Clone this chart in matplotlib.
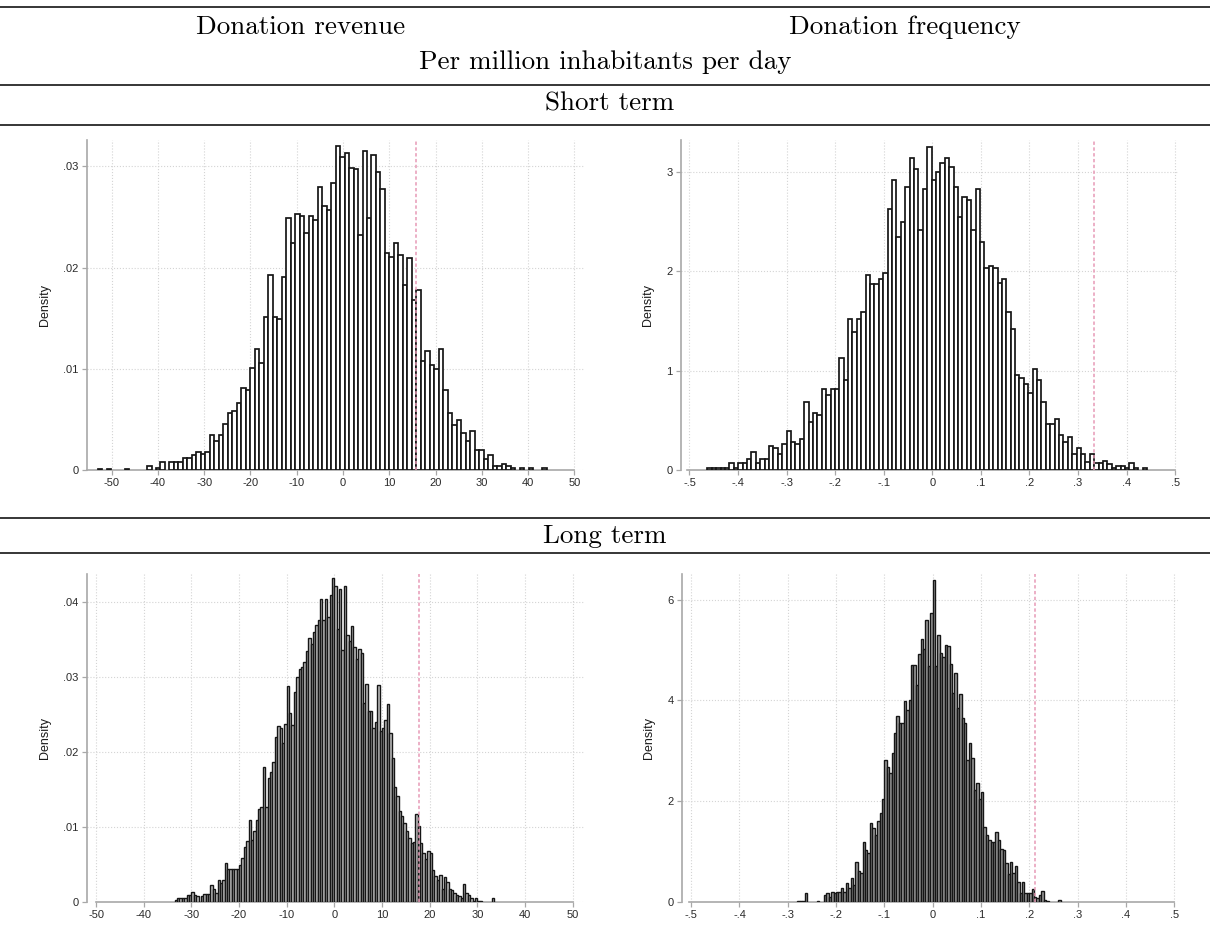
import numpy as np
import matplotlib.pyplot as plt
from matplotlib.lines import Line2D

W, H = 1210, 947

# ---- short term, donation revenue (density per bin) ----
rev_short_start = -53.0
rev_short_width = 0.97
rev_short = [
    0.0001, 0, 0.0001, 0, 0, 0, 0.0001, 0, 0, 0,
    0, 0.0004, 0, 0.0002, 0.0008, 0, 0.0008, 0.0008, 0.0008, 0.0012,
    0.0012, 0.0015, 0.0018, 0.0016, 0.0018, 0.0035, 0.0029, 0.0035, 0.0045, 0.0056,
    0.0058, 0.0066, 0.0081, 0.0079, 0.0101, 0.0120, 0.0106, 0.0151, 0.0193, 0.0151,
    0.0149, 0.0191, 0.0249, 0.0224, 0.0253, 0.0251, 0.0234, 0.0251, 0.0247, 0.0280,
    0.0261, 0.0257, 0.0284, 0.0320, 0.0309, 0.0313, 0.0298, 0.0297, 0.0232, 0.0315,
    0.0249, 0.0311, 0.0294, 0.0278, 0.0214, 0.0210, 0.0224, 0.0212, 0.0183, 0.0209,
    0.0168, 0.0178, 0.0108, 0.0118, 0.0104, 0.0100, 0.0120, 0.0079, 0.0056, 0.0044,
    0.0049, 0.0037, 0.0029, 0.0039, 0.0020, 0.0020, 0.0011, 0.0015, 0.0004, 0.0004,
    0.0006, 0.0004, 0.0002, 0, 0.0002, 0, 0.0002, 0, 0, 0.0002,
]
rev_short_obs = 15.76

# ---- short term, donation frequency ----
freq_short_start = -0.463
freq_short_width = 0.00905
freq_short = [
    0.02, 0.02, 0.02, 0.02, 0.02, 0.07, 0.02, 0.07, 0.07, 0.11,
    0.18, 0.07, 0.11, 0.11, 0.245, 0.218, 0.158, 0.265, 0.396, 0.285,
    0.261, 0.308, 0.680, 0.486, 0.570, 0.550, 0.818, 0.751, 0.818, 0.818,
    1.123, 0.905, 1.522, 1.391, 1.522, 1.589, 1.964, 1.874, 1.874, 1.917,
    1.985, 2.628, 2.913, 2.340, 2.494, 2.850, 3.134, 3.024, 2.410, 2.826,
    3.245, 2.913, 3.000, 3.091, 3.134, 3.051, 2.850, 2.541, 2.742, 2.719,
    2.414, 2.826, 2.296, 2.035, 2.052, 2.035, 1.877, 1.917, 1.589, 1.415,
    0.952, 0.929, 0.862, 0.771, 1.012, 0.905, 0.680, 0.459, 0.459, 0.510,
    0.355, 0.285, 0.329, 0.158, 0.218, 0.158, 0.084, 0.158, 0.07, 0.07,
    0.09, 0.06, 0.02, 0.04, 0.04, 0.02, 0.07, 0.02, 0, 0.02,
]
freq_short_obs = 0.332

# ---- long term, donation revenue ----
rev_long_start = -34.0
rev_long_width = 0.5
rev_long = [
    0, 0.0003, 0.0005, 0.0005, 0.0005, 0.0005, 0.0009, 0.0009, 0.0014, 0.0010,
    0.0008, 0, 0.0008, 0.0011, 0.0011, 0.0011, 0.0023, 0.0018, 0.0012, 0.0029,
    0.0026, 0.0029, 0.0052, 0.0044, 0.0044, 0.0044, 0.0044, 0.0044, 0.0050, 0.0059,
    0.0074, 0.0082, 0.0110, 0.0083, 0.0095, 0.0110, 0.0124, 0.0127, 0.0180, 0.0127,
    0.0166, 0.0174, 0.0187, 0.0221, 0.0235, 0.0232, 0.0212, 0.0238, 0.0288, 0.0252,
    0.0237, 0.0281, 0.0300, 0.0311, 0.0314, 0.0320, 0.0335, 0.0352, 0.0344, 0.0360,
    0.0370, 0.0377, 0.0404, 0.0376, 0.0404, 0.0380, 0.0410, 0.0432, 0.0422, 0.0364,
    0.0418, 0.0336, 0.0422, 0.0356, 0.0348, 0.0369, 0.0340, 0.0324, 0.0338, 0.0332,
    0.0266, 0.0291, 0.0255, 0.0255, 0.0232, 0.0240, 0.0290, 0.0229, 0.0233, 0.0243,
    0.0264, 0.0226, 0.0192, 0.0154, 0.0142, 0.0121, 0.0115, 0.0106, 0.0095, 0.0086,
    0.0079, 0.0080, 0.0118, 0.0101, 0.0079, 0.0066, 0.0057, 0.0068, 0.0065, 0.0043,
    0.0035, 0.0029, 0.0036, 0.0018, 0.0033, 0.0027, 0.0018, 0.0016, 0.0012, 0.0009,
    0.0008, 0.0006, 0.0024, 0.0012, 0.0009, 0.0006, 0.0002, 0.0006, 0.0002, 0.0002,
    0, 0, 0, 0, 0.0006,
]
rev_long_obs = 17.7

# ---- long term, donation frequency ----
freq_long_start = -0.28
freq_long_width = 0.005
freq_long = [
    0.02, 0.02, 0.02, 0.18, 0, 0, 0, 0, 0.02, 0,
    0, 0.13, 0.18, 0.10, 0.20, 0.18, 0.20, 0.20, 0.27, 0.20,
    0.37, 0.28, 0.47, 0.33, 0.80, 0.62, 0.58, 1.19, 1.04, 0.97,
    1.56, 1.46, 1.33, 1.61, 1.76, 2.04, 2.82, 2.67, 2.57, 2.96,
    3.35, 3.70, 3.56, 3.56, 3.99, 3.81, 4.01, 4.71, 4.71, 4.31,
    4.93, 5.22, 5.02, 5.59, 4.69, 5.74, 6.40, 4.69, 5.29, 4.95,
    4.87, 5.11, 5.09, 4.73, 4.14, 4.54, 3.85, 4.12, 3.65, 3.55,
    2.82, 3.15, 2.86, 2.23, 2.37, 2.05, 2.19, 1.49, 1.32, 1.24,
    1.19, 1.19, 1.39, 1.24, 1.05, 1.04, 0.78, 0.55, 0.79, 0.57,
    0.72, 0.40, 0.18, 0.40, 0.17, 0.17, 0.18, 0.25, 0.10, 0.07,
    0.13, 0.22, 0.04, 0.02, 0, 0, 0, 0, 0.04,
]
freq_long_obs = 0.211

# ---- axis ticks and labels ----
rev_xticks = [-50, -40, -30, -20, -10, 0, 10, 20, 30, 40, 50]
rev_xlabels = ['-50', '-40', '-30', '-20', '-10', '0', '10', '20', '30', '40', '50']
freq_xticks = [-0.5, -0.4, -0.3, -0.2, -0.1, 0, 0.1, 0.2, 0.3, 0.4, 0.5]
freq_xlabels = ['-.5', '-.4', '-.3', '-.2', '-.1', '0', '.1', '.2', '.3', '.4', '.5']
rev_short_yticks = [0, 0.01, 0.02, 0.03]
rev_short_ylabels = ['0', '.01', '.02', '.03']
freq_short_yticks = [0, 1, 2, 3]
freq_short_ylabels = ['0', '1', '2', '3']
rev_long_yticks = [0, 0.01, 0.02, 0.03, 0.04]
rev_long_ylabels = ['0', '.01', '.02', '.03', '.04']
freq_long_yticks = [0, 2, 4, 6]
freq_long_ylabels = ['0', '2', '4', '6']

col_titles = ['Donation revenue', 'Donation frequency']
unit_title = 'Per million inhabitants per day'
row_titles = ['Short term', 'Long term']

AXIS_GREY = '#a8a8a8'
TEXT_GREY = '#2a2a2a'


def px_axes(fig, left, right, top, bottom):
    return fig.add_axes([left / W, 1 - bottom / H, (right - left) / W, (bottom - top) / H])


def draw_hist(ax, start, width, heights, obs, xlim, ylim, xticks, xlabels,
              yticks, ylabels, face, edge_lw, xaxis_bounds):
    heights = np.asarray(heights, dtype=float)
    edges = start + width * np.arange(len(heights))
    keep = heights > 0
    ax.bar(edges[keep], heights[keep], width=width, align='edge', color=face,
           edgecolor='#161616', linewidth=edge_lw, zorder=3)
    ax.axvline(obs, color='#e79ab6', lw=1.1, ls=(0, (2.2, 1.6)), zorder=4)

    ax.set_xlim(*xlim)
    ax.set_ylim(*ylim)
    ax.set_xticks(xticks)
    ax.set_xticklabels(xlabels)
    ax.set_yticks(yticks)
    ax.set_yticklabels(ylabels)
    ax.grid(True, ls=':', color='#d4d4d4', lw=0.8)
    ax.set_axisbelow(True)

    for side in ['top', 'right']:
        ax.spines[side].set_visible(False)
    for side in ['left', 'bottom']:
        ax.spines[side].set_color(AXIS_GREY)
        ax.spines[side].set_linewidth(1.2)
    ax.spines['bottom'].set_bounds(*xaxis_bounds)
    ax.tick_params(colors=AXIS_GREY, length=3.5, width=0.9, labelsize=8,
                   labelcolor=TEXT_GREY, pad=2.5)
    ax.set_ylabel('Density', fontsize=9, color='#1a1a1a', labelpad=9)
    ax.set_facecolor('white')


def main():
    plt.rcParams['font.family'] = ['Liberation Sans', 'DejaVu Sans']
    fig = plt.figure(figsize=(W / 100, H / 100), dpi=100)

    # table rules
    for y in [7, 85, 125, 518, 553]:
        fig.add_artist(Line2D([0, 1], [1 - y / H, 1 - y / H], transform=fig.transFigure,
                              color='black', lw=1.1))

    serif = dict(family='cmr10', fontsize=19.5, ha='center', va='center', color='black')
    fig.text(301 / W, 1 - 27 / H, col_titles[0], **serif)
    fig.text(905 / W, 1 - 27 / H, col_titles[1], **serif)
    fig.text(605 / W, 1 - 62 / H, unit_title, **serif)
    fig.text(610 / W, 1 - 104 / H, row_titles[0], **serif)
    fig.text(605 / W, 1 - 536 / H, row_titles[1], **serif)

    ax1 = px_axes(fig, 87, 585, 140, 470)
    draw_hist(ax1, rev_short_start, rev_short_width, rev_short, rev_short_obs,
              (-55.3, 52.3), (0, 0.0326), rev_xticks, rev_xlabels,
              rev_short_yticks, rev_short_ylabels, 'white', 1.25, (-55.3, 50))

    ax2 = px_axes(fig, 681, 1178, 140, 470)
    draw_hist(ax2, freq_short_start, freq_short_width, freq_short, freq_short_obs,
              (-0.5175, 0.506), (0, 3.32), freq_xticks, freq_xlabels,
              freq_short_yticks, freq_short_ylabels, 'white', 1.25, (-0.505, 0.5))

    ax3 = px_axes(fig, 87, 585, 574, 902)
    draw_hist(ax3, rev_long_start, rev_long_width, rev_long, rev_long_obs,
              (-51.9, 52.6), (0, 0.0438), rev_xticks, rev_xlabels,
              rev_long_yticks, rev_long_ylabels, '#bdbdbd', 1.0, (-50, 50))

    ax4 = px_axes(fig, 682, 1178, 574, 902)
    draw_hist(ax4, freq_long_start, freq_long_width, freq_long, freq_long_obs,
              (-0.519, 0.508), (0, 6.51), freq_xticks, freq_xlabels,
              freq_long_yticks, freq_long_ylabels, '#9c9c9c', 1.0, (-0.505, 0.5))

    fig.savefig('out.png', dpi=100, facecolor='white')


if __name__ == '__main__':
    main()
